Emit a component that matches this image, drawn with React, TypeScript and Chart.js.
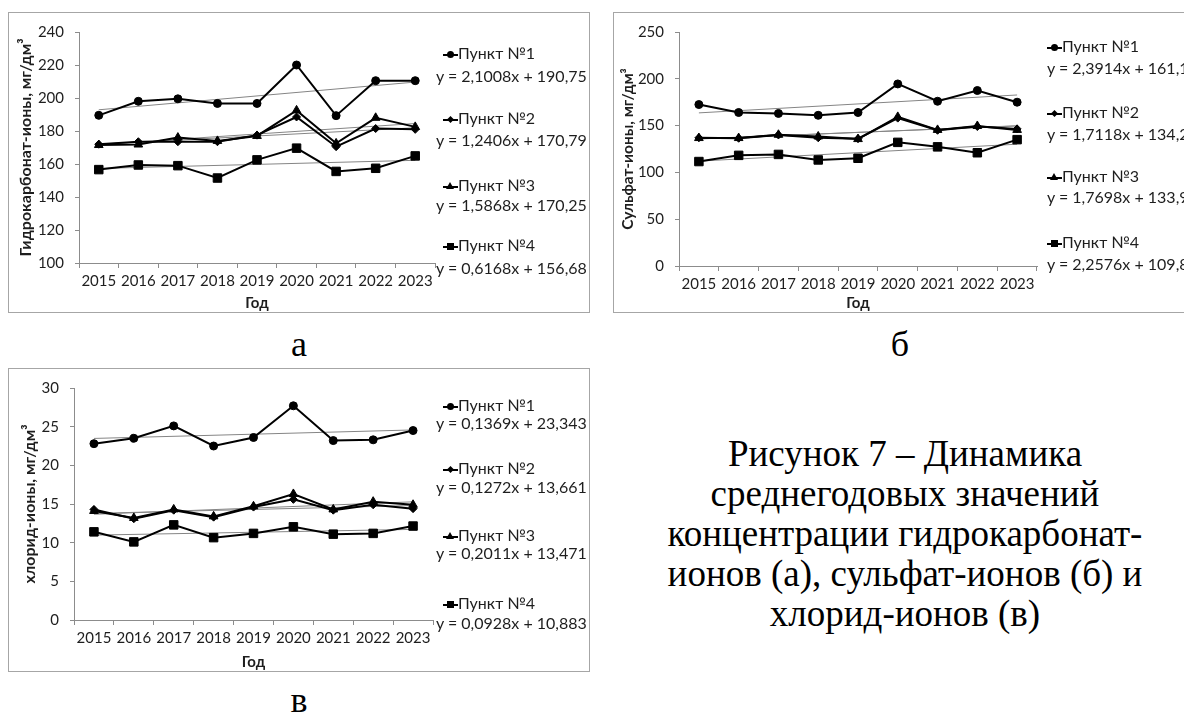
import React, { useEffect, useRef } from "react";
import { Chart, registerables } from "chart.js";

Chart.register(...registerables);

// ---------- data ----------
const YEARS = ["2015", "2016", "2017", "2018", "2019", "2020", "2021", "2022", "2023"];
const POINT_NAMES = ["Пункт №1", "Пункт №2", "Пункт №3", "Пункт №4"];

// (а) hydrocarbonate ions, mg/dm3
const HCO3_P1 = [189.5, 198, 199.5, 196.7, 196.7, 220, 189.3, 210.5, 210.5];
const HCO3_P2 = [172, 173.5, 173.5, 173.5, 177.5, 188.5, 170.5, 181.5, 181];
const HCO3_P3 = [171.5, 171.8, 176, 174, 177, 192.5, 172.5, 188, 182.5];
const HCO3_P4 = [156.6, 159.4, 159, 151.5, 162.5, 169.6, 155.5, 157.4, 164.9];
const HCO3_SLOPES = [2.1008, 1.2406, 1.5868, 0.6168];
const HCO3_INTERCEPTS = [190.75, 170.79, 170.25, 156.68];
const HCO3_EQUATIONS = ["y = 2,1008x + 190,75", "y = 1,2406x + 170,79", "y = 1,5868x + 170,25", "y = 0,6168x + 156,68"];
const HCO3_Y_TICKS = [100, 120, 140, 160, 180, 200, 220, 240];

// (б) sulfate ions, mg/dm3
const SO4_P1 = [172.5, 164, 163, 161, 164, 194.5, 176, 187.5, 175];
const SO4_P2 = [137, 136.5, 140, 137, 136, 158, 145, 149, 146.5];
const SO4_P3 = [136.7, 136.7, 140.2, 138.4, 135.6, 159.3, 145.4, 149.6, 145.4];
const SO4_P4 = [111.6, 118.2, 119.2, 113.3, 115.1, 132.1, 127.3, 121, 135];
const SO4_SLOPES = [2.3914, 1.7118, 1.7698, 2.2576];
const SO4_INTERCEPTS = [161.19, 134.2, 133.9, 109.8];
const SO4_EQUATIONS = ["y = 2,3914x + 161,19", "y = 1,7118x + 134,2", "y = 1,7698x + 133,9", "y = 2,2576x + 109,8"];
const SO4_Y_TICKS = [0, 50, 100, 150, 200, 250];

// (в) chloride ions, mg/dm3
const CL_P1 = [22.8, 23.5, 25.1, 22.5, 23.6, 27.7, 23.2, 23.3, 24.5];
const CL_P2 = [14.3, 13.1, 14.2, 13.3, 14.6, 15.6, 14.2, 14.9, 14.4];
const CL_P3 = [14.1, 13.2, 14.3, 13.4, 14.7, 16.3, 14.3, 15.3, 14.9];
const CL_P4 = [11.4, 10.1, 12.3, 10.65, 11.2, 12.05, 11.1, 11.2, 12.15];
const CL_SLOPES = [0.1369, 0.1272, 0.2011, 0.0928];
const CL_INTERCEPTS = [23.343, 13.661, 13.471, 10.883];
const CL_EQUATIONS = ["y = 0,1369x + 23,343", "y = 0,1272x + 13,661", "y = 0,2011x + 13,471", "y = 0,0928x + 10,883"];
const CL_Y_TICKS = [0, 5, 10, 15, 20, 25, 30];

const CAPTION_LINES = [
  "Рисунок 7 – Динамика",
  "среднегодовых значений",
  "концентрации гидрокарбонат-",
  "ионов (а), сульфат-ионов (б) и",
  "хлорид-ионов (в)",
];

// ---------- styles ----------
const POINT_STYLES = ["circle", "rectRot", "triangle", "rect"];
const POINT_RADII = [4, 4, 5, 6];
const SANS = "Lato, 'Open Sans', sans-serif";
const SERIF = "'Liberation Serif', 'Times New Roman', serif";
const AXIS_COLOR = "#8c8c8c";
const TEXT_COLOR = "#1e1e1e";

type PanelSpec = {
  left: number; top: number; width: number; height: number;
  chartLeft: number; chartRight: number; chartTop: number; chartBottom: number;
  yTitle: string; yTitlePad: number; yTitleSize: number; yTicks: number[];
  series: number[][]; slopes: number[]; intercepts: number[]; equations: string[];
  markerX: number; textX: number; eqX: number; labelY: number[]; eqY: number[];
};

const PANELS: PanelSpec[] = [
  {
    left: 8, top: 12, width: 582, height: 301,
    chartLeft: 71, chartRight: 427, chartTop: 14, chartBottom: 251,
    yTitle: "Гидрокарбонат-ионы, мг/дм³", yTitlePad: 8.4, yTitleSize: 16, yTicks: HCO3_Y_TICKS,
    series: [HCO3_P1, HCO3_P2, HCO3_P3, HCO3_P4], slopes: HCO3_SLOPES, intercepts: HCO3_INTERCEPTS, equations: HCO3_EQUATIONS,
    markerX: 435, textX: 448, eqX: 428, labelY: [41, 106, 173, 233], eqY: [64, 128, 193, 256],
  },
  {
    left: 613, top: 12, width: 580, height: 301,
    chartLeft: 66, chartRight: 424, chartTop: 15, chartBottom: 254,
    yTitle: "Сульфат-ионы, мг/дм³", yTitlePad: 5.8, yTitleSize: 15.5, yTicks: SO4_Y_TICKS,
    series: [SO4_P1, SO4_P2, SO4_P3, SO4_P4], slopes: SO4_SLOPES, intercepts: SO4_INTERCEPTS, equations: SO4_EQUATIONS,
    markerX: 434, textX: 451, eqX: 434, labelY: [34, 100, 164, 230], eqY: [56, 122, 185, 252],
  },
  {
    left: 8, top: 368, width: 582, height: 304,
    chartLeft: 66, chartRight: 425, chartTop: 15, chartBottom: 252,
    yTitle: "хлорид-ионы, мг/дм³", yTitlePad: 12.4, yTitleSize: 16, yTicks: CL_Y_TICKS,
    series: [CL_P1, CL_P2, CL_P3, CL_P4], slopes: CL_SLOPES, intercepts: CL_INTERCEPTS, equations: CL_EQUATIONS,
    markerX: 435, textX: 448, eqX: 428, labelY: [37, 100, 167, 235], eqY: [55, 119, 185, 255],
  },
];

function Marker({ kind }: { kind: number }) {
  const base: React.CSSProperties = { position: "absolute", background: "#000" };
  let shape: React.CSSProperties;
  if (kind === 0) shape = { ...base, width: 7, height: 7, borderRadius: 4, left: 4, top: -2.5 };
  else if (kind === 1) shape = { ...base, width: 5, height: 5, left: 5, top: -1.5, transform: "rotate(45deg)" };
  else if (kind === 2)
    shape = { position: "absolute", width: 0, height: 0, left: 3, top: -4, borderLeft: "4.5px solid transparent", borderRight: "4.5px solid transparent", borderBottom: "7px solid #000" };
  else shape = { ...base, width: 7, height: 7, left: 4, top: -2.5 };
  return (
    <span style={{ position: "relative", display: "inline-block", width: 15, height: 2, background: "#000", verticalAlign: "middle" }}>
      <span style={shape} />
    </span>
  );
}

function ChartPanel({ spec }: { spec: PanelSpec }) {
  const ref = useRef<HTMLCanvasElement>(null);
  useEffect(() => {
    const canvas = ref.current;
    if (!canvas) return;
    const n = YEARS.length;
    const datasets: any[] = [];
    spec.series.forEach((vals, i) => {
      datasets.push({
        label: POINT_NAMES[i],
        data: vals,
        borderColor: "#000",
        backgroundColor: "#000",
        borderWidth: 2,
        pointStyle: POINT_STYLES[i],
        pointRadius: POINT_RADII[i],
        pointBorderWidth: 1,
        pointBorderColor: "#000",
        pointBackgroundColor: "#000",
        tension: 0,
        clip: false,
      });
    });
    spec.slopes.forEach((a, i) => {
      const b = spec.intercepts[i];
      datasets.push({
        label: "trend " + (i + 1),
        data: YEARS.map((_, k) => (k === 0 || k === n - 1 ? a * (k + 1) + b : null)),
        spanGaps: true,
        borderColor: "#858585",
        borderWidth: 1,
        pointRadius: 0,
        clip: false,
      });
    });
    const yt = spec.yTicks;
    const chart = new Chart(canvas, {
      type: "line",
      data: { labels: YEARS, datasets },
      options: {
        animation: false,
        responsive: false,
        devicePixelRatio: 1,
        events: [],
        layout: { padding: { left: 0, top: spec.chartTop, right: spec.width - spec.chartRight, bottom: 0 } },
        plugins: { legend: { display: false }, tooltip: { enabled: false } },
        scales: {
          x: {
            type: "category",
            offset: true,
            grid: { offset: true, drawOnChartArea: false, drawTicks: true, tickLength: 5, color: AXIS_COLOR },
            border: { display: true, color: AXIS_COLOR, width: 1 },
            ticks: { font: { family: SANS, size: 15 }, color: TEXT_COLOR, padding: 4, maxRotation: 0, autoSkip: false },
            title: { display: true, text: "Год", color: TEXT_COLOR, font: { family: SANS, size: 15, weight: "bold" }, padding: { top: 0, bottom: 1 } },
            afterFit: (s: any) => { s.height = spec.height - spec.chartBottom; },
          },
          y: {
            min: yt[0],
            max: yt[yt.length - 1],
            afterBuildTicks: (s: any) => { s.ticks = yt.map((v) => ({ value: v })); },
            grid: { drawOnChartArea: false, drawTicks: true, tickLength: 4, color: AXIS_COLOR },
            border: { display: true, color: AXIS_COLOR, width: 1 },
            ticks: { font: { family: SANS, size: 15 }, color: TEXT_COLOR, padding: 11 },
            title: { display: true, text: spec.yTitle, color: TEXT_COLOR, font: { family: SANS, size: spec.yTitleSize, weight: "bold" }, padding: { top: spec.yTitlePad, bottom: 0 } },
            afterFit: (s: any) => { s.width = spec.chartLeft; },
          },
        },
      } as any,
    });
    return () => chart.destroy();
  }, [spec]);

  const legendText: React.CSSProperties = {
    position: "absolute", fontFamily: SANS, fontSize: 16, color: TEXT_COLOR, whiteSpace: "nowrap", lineHeight: "18px", transform: "translateY(-50%)",
  };

  return (
    <>
      <div style={{ position: "absolute", left: spec.left, top: spec.top, width: spec.width, height: spec.height, boxSizing: "border-box", border: "1px solid #a6a6a6", background: "#fff" }} />
      <canvas ref={ref} width={spec.width} height={spec.height} style={{ position: "absolute", left: spec.left, top: spec.top, width: spec.width, height: spec.height }} />
      <div style={{ position: "absolute", left: spec.left, top: spec.top, width: spec.width, height: spec.height }}>
        {POINT_NAMES.map((name, i) => (
          <React.Fragment key={name}>
            <div style={{ ...legendText, left: spec.markerX, top: spec.labelY[i] }}>
              <Marker kind={i} />
              <span style={{ marginLeft: 0 }}>{name}</span>
            </div>
            <div style={{ ...legendText, left: spec.eqX, top: spec.eqY[i] }}>{spec.equations[i]}</div>
          </React.Fragment>
        ))}
      </div>
    </>
  );
}

export default function App() {
  const label = (text: string, cx: number, cy: number) => (
    <div style={{ position: "absolute", left: cx - 50, top: cy, width: 100, textAlign: "center", transform: "translateY(-50%)", fontFamily: SERIF, fontSize: 36, lineHeight: "40px", color: "#000" }}>{text}</div>
  );
  return (
    <div style={{ position: "fixed", left: 0, top: 0, width: 1184, height: 713, overflow: "hidden", background: "#fff" }}>
      {PANELS.map((p, i) => <ChartPanel key={i} spec={p} />)}
      {label("а", 299, 344)}
      {label("б", 900, 344)}
      {label("в", 299, 700)}
      <div style={{ position: "absolute", left: 605, top: 434, width: 600, textAlign: "center", fontFamily: SERIF, fontSize: 37, lineHeight: "40px", color: "#000" }}>
        {CAPTION_LINES.map((l) => <div key={l}>{l}</div>)}
      </div>
    </div>
  );
}
